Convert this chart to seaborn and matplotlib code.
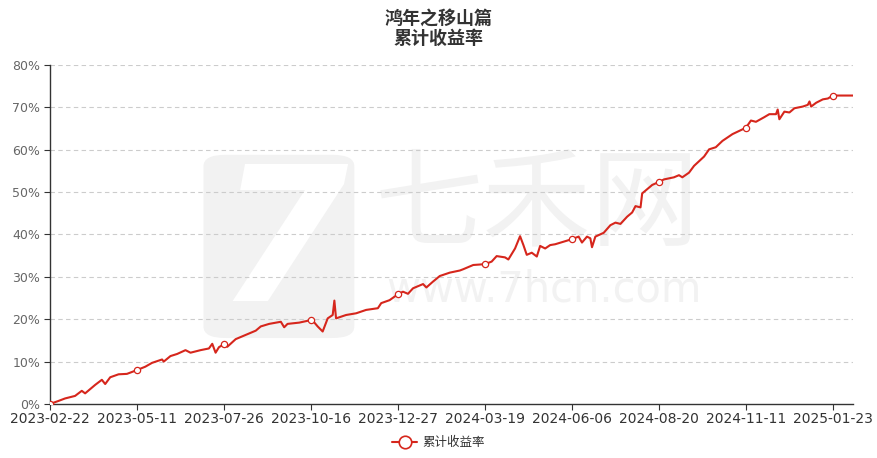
import numpy as np
import pandas as pd
import matplotlib
matplotlib.use("Agg")
import matplotlib.pyplot as plt
import seaborn as sns
from matplotlib.patches import FancyBboxPatch
from matplotlib.ticker import PercentFormatter, FixedLocator

# trading-day index (category axis) and cumulative return
day_idx = [0, 5, 9, 15, 19, 21, 27, 31, 33, 36, 41, 46, 52, 57, 61, 67, 68, 72, 76, 81,
           84, 90, 95, 97, 99, 101, 104, 106, 111, 117, 123, 126, 131, 138, 140, 142, 149, 156, 157, 160,
           163, 166, 169, 170, 171, 177, 183, 189, 196, 198, 203, 208, 211, 214, 217, 223, 225, 229, 233, 239,
           245, 247, 253, 260, 264, 267, 272, 274, 278, 281, 283, 285, 288, 291, 293, 296, 299, 302, 307, 312,
           316, 318, 321, 323, 324, 326, 331, 335, 338, 341, 345, 348, 350, 353, 354, 357, 360, 364, 367, 373,
           376, 378, 382, 385, 391, 394, 398, 402, 408, 416, 419, 422, 427, 430, 434, 435, 436, 439, 442, 445,
           450, 453, 454, 455, 458, 462, 465, 468, 474, 480]
cum_ret = [0.0, 0.7, 1.3, 1.9, 3.1, 2.5, 4.5, 5.7, 4.7, 6.3, 7.0, 7.1, 8.0, 8.8, 9.7, 10.5, 10.0, 11.3, 11.8, 12.7,
           12.1, 12.7, 13.1, 14.2, 12.1, 13.4, 14.1, 13.5, 15.3, 16.3, 17.3, 18.3, 18.9, 19.4, 18.1, 18.9, 19.2, 19.8, 19.7, 18.3,
           17.1, 20.2, 21.0, 24.4, 20.2, 21.0, 21.4, 22.2, 22.6, 23.8, 24.5, 25.9, 26.5, 26.0, 27.3, 28.3, 27.5, 28.9, 30.2, 31.0,
           31.5, 31.8, 32.8, 33.0, 33.6, 34.9, 34.6, 34.1, 36.7, 39.6, 37.5, 35.2, 35.7, 34.8, 37.3, 36.7, 37.5, 37.7, 38.3, 38.9,
           39.5, 38.1, 39.5, 39.1, 37.0, 39.5, 40.4, 42.2, 42.8, 42.5, 44.2, 45.2, 46.7, 46.4, 49.7, 50.7, 51.7, 52.4, 53.0, 53.5,
           54.0, 53.5, 54.6, 56.2, 58.4, 60.1, 60.6, 62.1, 63.7, 65.2, 66.9, 66.6, 67.7, 68.4, 68.4, 69.5, 67.2, 69.0, 68.8, 69.8,
           70.2, 70.6, 71.4, 70.2, 71.1, 71.9, 72.1, 72.8, 72.8, 72.8]

tick_labels = ["2023-02-22", "2023-05-11", "2023-07-26", "2023-10-16", "2023-12-27",
               "2024-03-19", "2024-06-06", "2024-08-20", "2024-11-11", "2025-01-23"]
tick_step = 52

df = pd.DataFrame({"day": day_idx, "ret": np.array(cum_ret) / 100})

sns.set_theme(style="white")
plt.rcParams['font.family'] = ['Noto Sans CJK SC', 'DejaVu Sans']

red = "#d6261c"
wm = "#f2f2f2"
fig = plt.figure(figsize=(8.77, 4.58), dpi=100)
ax = fig.add_axes([0.057, 0.118, 0.9156, 0.740])

# watermark (logo block with a "7", site name and url)
logo = FancyBboxPatch((0.232, 0.262), 0.172, 0.40, boxstyle="round,pad=0,rounding_size=0.025",
                      transform=fig.transFigure, facecolor=wm, edgecolor="none", zorder=0)
ax.add_artist(logo)
ax.text(0.322, 0.455, "7", transform=fig.transFigure, fontsize=135, fontweight="bold",
        style="italic", family="DejaVu Sans", color="white", ha="center", va="center", zorder=0.5)
ax.text(0.613, 0.548, "七禾网", transform=fig.transFigure, fontsize=78, color=wm,
        ha="center", va="center", zorder=0.5)
ax.text(0.62, 0.367, "www.7hcn.com", transform=fig.transFigure, fontsize=30, color=wm,
        family="DejaVu Sans", ha="center", va="center", zorder=0.5)

for y in np.arange(0.1, 0.81, 0.1):
    ax.axhline(y, color="#cccccc", linestyle=(0, (4, 3)), linewidth=0.8, zorder=1)

sns.lineplot(data=df, x="day", y="ret", ax=ax, color=red, linewidth=1.5, zorder=3)
mk = df[df["day"] % tick_step == 0]
ax.plot(mk["day"], mk["ret"], linestyle="none", marker="o", markersize=4.5,
        markerfacecolor="white", markeredgecolor=red, markeredgewidth=0.9, zorder=5)

ax.set_xlim(0, 480)
ax.set_ylim(0, 0.8)
ax.yaxis.set_major_locator(FixedLocator(np.arange(0, 0.81, 0.1)))
ax.yaxis.set_major_formatter(PercentFormatter(1.0, decimals=0))
ax.set_xticks([i * tick_step for i in range(len(tick_labels))])
ax.set_xticklabels(tick_labels)
ax.set_xlabel("")
ax.set_ylabel("")

for s in ["top", "right"]:
    ax.spines[s].set_visible(False)
for s in ["left", "bottom"]:
    ax.spines[s].set_color("#333333")
    ax.spines[s].set_linewidth(1.0)

ax.tick_params(axis="y", which="major", length=4, width=0.8, color="#333333",
               labelsize=9, labelcolor="#666666", pad=3, left=True)
ax.tick_params(axis="x", which="major", length=4, width=0.8, color="#333333",
               labelsize=10, labelcolor="#333333", pad=2, bottom=True)
for lab in ax.get_xticklabels() + ax.get_yticklabels():
    lab.set_family("DejaVu Sans")

fig.text(0.5, 0.961, "鸿年之移山篇", ha="center", va="center", fontsize=13,
         fontweight="bold", color="#333333")
fig.text(0.5, 0.917, "累计收益率", ha="center", va="center", fontsize=13,
         fontweight="bold", color="#333333")

handle = plt.Line2D([], [], color=red, linewidth=1.5, marker="o", markersize=9,
                    markerfacecolor="white", markeredgecolor=red, markeredgewidth=1.2)
fig.legend([handle], ["累计收益率"], loc="center", bbox_to_anchor=(0.5, 0.033),
           frameon=False, fontsize=9, handlelength=2.0, handletextpad=0.4,
           labelcolor="#333333")

fig.savefig("out.png", dpi=100)
